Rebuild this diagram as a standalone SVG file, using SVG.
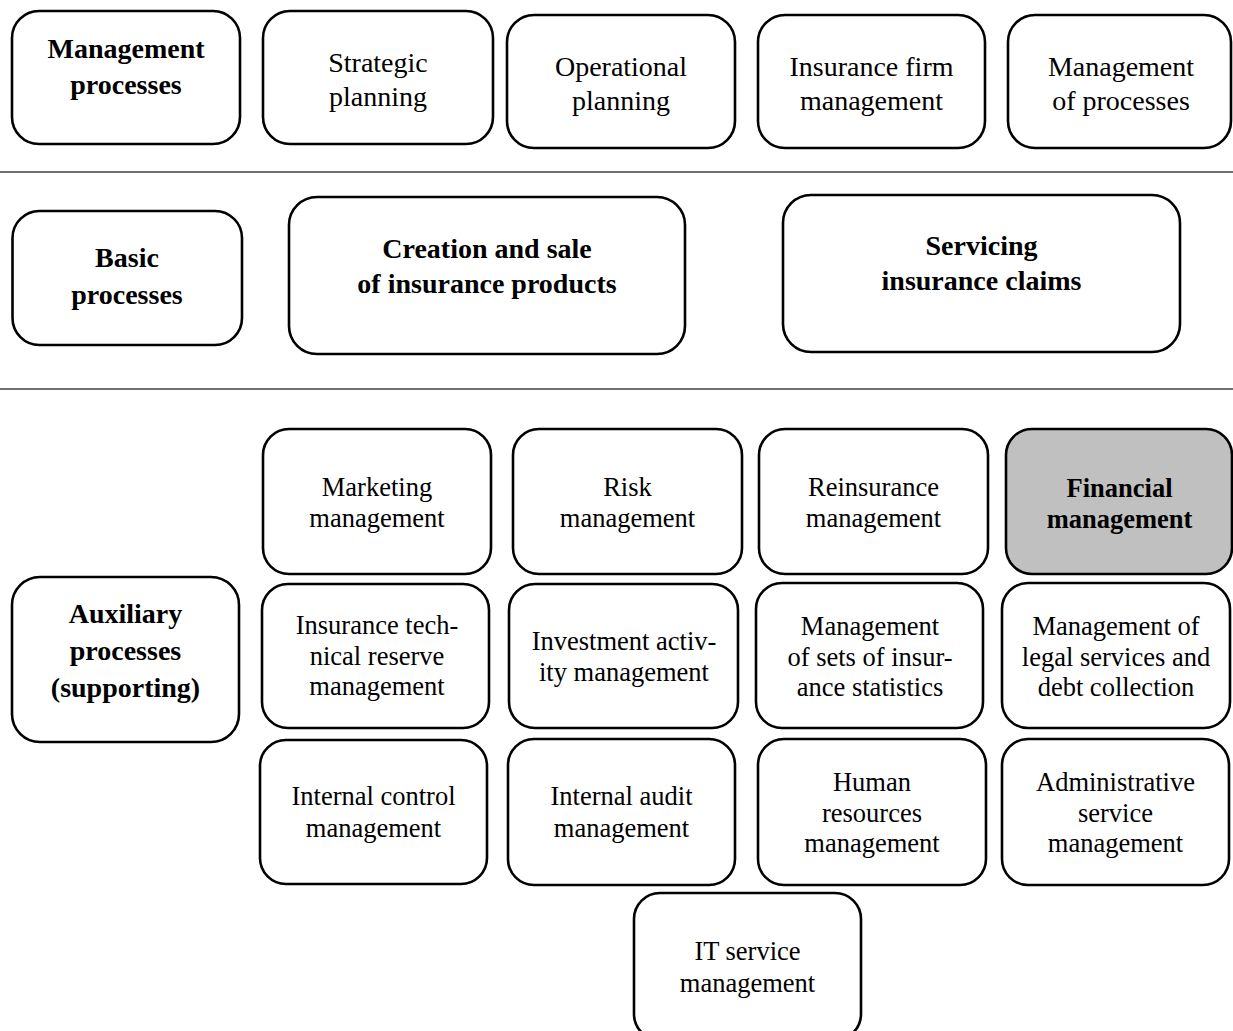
<svg xmlns="http://www.w3.org/2000/svg" width="1233" height="1031" viewBox="0 0 1233 1031">
<style>
.box{fill:#fff;stroke:#000;stroke-width:2.6}
.hl{fill:#c0c0c0}
.t{font-family:"Liberation Serif","Times New Roman",serif;font-size:26.5px;text-anchor:middle;fill:#000}
.top{font-size:28px}
.b{font-weight:bold;font-size:28px}
.bs{font-weight:bold;font-size:26.5px}
.sep{stroke:#404040;stroke-width:1.5}
</style>
<rect width="1233" height="1031" fill="#fff"/>
<g id="separators">
<line class="sep" x1="0" y1="172" x2="1233" y2="172"/>
<line class="sep" x1="0" y1="389" x2="1233" y2="389"/>
</g>
<g id="management-processes">
<rect class="box" x="12" y="11" width="228" height="133" rx="27"/>
<text class="t b" x="126" y="58">Management</text>
<text class="t b" x="126" y="94">processes</text>
</g>
<g id="strategic-planning">
<rect class="box" x="263" y="11" width="230" height="133" rx="27"/>
<text class="t top" x="378" y="72">Strategic</text>
<text class="t top" x="378" y="106">planning</text>
</g>
<g id="operational-planning">
<rect class="box" x="507" y="15" width="228" height="133" rx="27"/>
<text class="t top" x="621" y="76">Operational</text>
<text class="t top" x="621" y="110">planning</text>
</g>
<g id="insurance-firm-management">
<rect class="box" x="758" y="15" width="227" height="133" rx="27"/>
<text class="t top" x="871.5" y="76">Insurance firm</text>
<text class="t top" x="871.5" y="110">management</text>
</g>
<g id="management-of-processes">
<rect class="box" x="1008" y="15" width="223" height="133" rx="27"/>
<text class="t top" x="1121" y="76">Management</text>
<text class="t top" x="1121" y="110">of processes</text>
</g>
<g id="basic-processes">
<rect class="box" x="12.5" y="211" width="229.5" height="134" rx="27"/>
<text class="t b" x="127" y="267">Basic</text>
<text class="t b" x="127" y="304">processes</text>
</g>
<g id="creation-and-sale">
<rect class="box" x="289" y="197" width="396" height="157" rx="28"/>
<text class="t b" x="487" y="258">Creation and sale</text>
<text class="t b" x="487" y="293">of insurance products</text>
</g>
<g id="servicing-claims">
<rect class="box" x="783" y="195" width="397" height="157" rx="28"/>
<text class="t b" x="981.5" y="255">Servicing</text>
<text class="t b" x="981.5" y="290">insurance claims</text>
</g>
<g id="marketing-management">
<rect class="box" x="263" y="429" width="228" height="145" rx="26"/>
<text class="t" x="377" y="496">Marketing</text>
<text class="t" x="377" y="527">management</text>
</g>
<g id="risk-management">
<rect class="box" x="513" y="429" width="229" height="145" rx="26"/>
<text class="t" x="627.5" y="496">Risk</text>
<text class="t" x="627.5" y="527">management</text>
</g>
<g id="reinsurance-management">
<rect class="box" x="759" y="429" width="229" height="145" rx="26"/>
<text class="t" x="873.5" y="496">Reinsurance</text>
<text class="t" x="873.5" y="527">management</text>
</g>
<g id="financial-management">
<rect class="box hl" x="1006" y="429" width="226" height="145" rx="26"/>
<text class="t bs" x="1119.5" y="497">Financial</text>
<text class="t bs" x="1119.5" y="528">management</text>
</g>
<g id="auxiliary-processes">
<rect class="box" x="12" y="577" width="227" height="165" rx="28"/>
<text class="t b" x="125.5" y="623">Auxiliary</text>
<text class="t b" x="125.5" y="660">processes</text>
<text class="t b" x="125.5" y="697">(supporting)</text>
</g>
<g id="technical-reserve-management">
<rect class="box" x="262" y="584" width="227" height="144" rx="26"/>
<text class="t" x="377" y="634">Insurance tech-</text>
<text class="t" x="377" y="664.5">nical reserve</text>
<text class="t" x="377" y="695">management</text>
</g>
<g id="investment-activity-management">
<rect class="box" x="509" y="584" width="229" height="144" rx="26"/>
<text class="t" x="624" y="650">Investment activ-</text>
<text class="t" x="624" y="681">ity management</text>
</g>
<g id="insurance-statistics-management">
<rect class="box" x="756" y="583" width="227" height="145" rx="26"/>
<text class="t" x="870" y="635">Management</text>
<text class="t" x="870" y="665.5">of sets of insur-</text>
<text class="t" x="870" y="696">ance statistics</text>
</g>
<g id="legal-services-management">
<rect class="box" x="1002" y="583" width="228" height="145" rx="26"/>
<text class="t" x="1116" y="635">Management of</text>
<text class="t" x="1116" y="665.5">legal services and</text>
<text class="t" x="1116" y="696">debt collection</text>
</g>
<g id="internal-control-management">
<rect class="box" x="260" y="740" width="227" height="144" rx="26"/>
<text class="t" x="373.5" y="805">Internal control</text>
<text class="t" x="373.5" y="837">management</text>
</g>
<g id="internal-audit-management">
<rect class="box" x="508" y="739" width="227" height="146" rx="26"/>
<text class="t" x="621.5" y="805">Internal audit</text>
<text class="t" x="621.5" y="837">management</text>
</g>
<g id="human-resources-management">
<rect class="box" x="758" y="739" width="228" height="146" rx="26"/>
<text class="t" x="872" y="791">Human</text>
<text class="t" x="872" y="821.5">resources</text>
<text class="t" x="872" y="852">management</text>
</g>
<g id="administrative-service-management">
<rect class="box" x="1002" y="739" width="227" height="146" rx="26"/>
<text class="t" x="1115.5" y="791">Administrative</text>
<text class="t" x="1115.5" y="821.5">service</text>
<text class="t" x="1115.5" y="852">management</text>
</g>
<g id="it-service-management">
<rect class="box" x="634" y="893" width="227" height="147" rx="26"/>
<text class="t" x="747.5" y="960">IT service</text>
<text class="t" x="747.5" y="992">management</text>
</g>
</svg>
